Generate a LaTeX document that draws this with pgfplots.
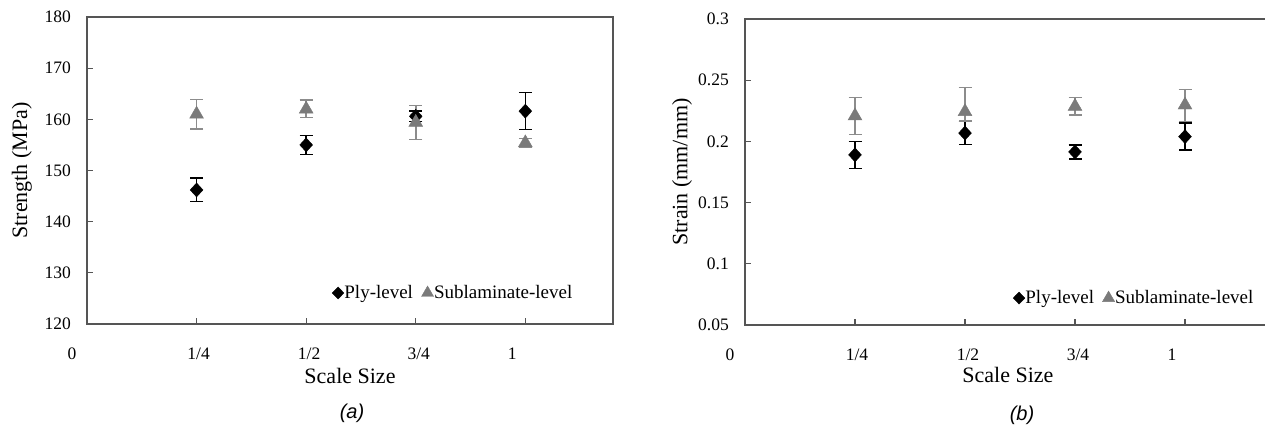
\documentclass[border=0pt]{standalone}
\usepackage{pgfplots}
\pgfplotsset{compat=1.18}
\usepackage{pgfplotstable}
\usepackage{fontspec}
\setmainfont{Liberation Serif}
\newfontfamily\capfont{Liberation Sans}
\definecolor{subgray}{RGB}{122,122,122}
\definecolor{suberr}{RGB}{140,140,140}
\definecolor{axisgray}{RGB}{85,85,85}

\pgfplotstableread{
x y ep em
0.25 146.2 2.3 2.3
0.5 155.0 1.85 1.85
0.75 160.6 1.0 1.0
1.0 161.6 3.6 3.6
}\plyA
\pgfplotstableread{
x y ep em
0.25 161.0 2.85 2.85
0.5 162.0 1.8 1.6
0.75 159.4 3.3 3.3
1.0 155.4 0.9 0.9
}\subA
\pgfplotstableread{
x y ep em
0.25 0.1890 0.0110 0.0110
0.5 0.2068 0.0093 0.0093
0.75 0.1914 0.0058 0.0058
1.0 0.2039 0.0110 0.0110
}\plyB
\pgfplotstableread{
x y ep em
0.25 0.2208 0.0151 0.0151
0.5 0.2243 0.0196 0.0076
0.75 0.2286 0.0072 0.0072
1.0 0.2297 0.0125 0.0135
}\subB

\pgfplotsset{
  myax/.style={
    scale only axis, clip=false,
    xmin=0, xmax=1.2,
    axis line style={axisgray, line width=1.2pt},
    tick style={axisgray, line width=1.2pt},
    tick align=inside, major tick length=6pt,
    tick pos=left,
    xtick={0,0.25,0.5,0.75,1},
    xticklabels={{0\kern30pt},{\kern4pt 1/4},{\kern6pt 1/2},{\kern6pt 3/4},{1\kern26pt}},
    tick label style={font=\fontsize{17.5}{20}\selectfont},
    /pgf/number format/assume math mode=true,
    xticklabel style={anchor=base, yshift=-36pt},
    yticklabel style={anchor=east, inner sep=0pt, xshift=-16pt},
    label style={font=\fontsize{22}{26}\selectfont},
    legend image code/.code={\draw[#1] plot coordinates {(0pt,0pt)};},
    legend style={anchor=west, draw=none, fill=none, legend columns=2,
      inner sep=0pt, font=\fontsize{19}{21}\selectfont,
      nodes={inner sep=0.5pt},
      /tikz/every even column/.append style={column sep=8pt}},
  },
  plystyle/.style={only marks, mark=diamond*, mark size=7pt, black,
    mark options={xscale=1.22},
    error bars/.cd, y dir=both, y explicit,
    error bar style={black, line width=1.5pt},
    error mark options={rotate=90, mark size=6.5pt, line width=1.5pt, black}},
  substyle/.style={only marks, mark=triangle*, mark size=8pt, subgray,
    error bars/.cd, y dir=both, y explicit,
    error bar style={suberr, line width=1.5pt},
    error mark options={rotate=90, mark size=6.5pt, line width=1.5pt, suberr}},
  plyleg/.style={only marks, mark=diamond*, mark size=6pt, black, mark options={xscale=1.3}},
  subleg/.style={only marks, mark=triangle*, mark size=7pt, subgray},
}

\begin{document}
\begin{tikzpicture}
\useasboundingbox (0,0) rectangle (1265pt,425pt);

\begin{axis}[myax, at={(87pt,101pt)}, anchor=south west,
  width=526pt, height=307pt,
  ymin=120, ymax=180, ytick={120,130,...,180},
  ylabel={Strength (MPa)},
  ylabel style={at={(axis description cs:-0.1236,0.5)}, anchor=center},
  xlabel={Scale Size},
  xlabel style={at={(axis description cs:0.5,-0.169)}, anchor=center},
  legend style={at={(axis description cs:0.4658,0.101)}},
]
\addlegendimage{plyleg}
\addlegendimage{subleg}
\addplot[forget plot, plystyle] table[x=x,y=y,y error plus=ep,y error minus=em]{\plyA};
\addplot[forget plot, substyle] table[x=x,y=y,y error plus=ep,y error minus=em]{\subA};
\legend{Ply-level, Sublaminate-level}
\end{axis}

\begin{axis}[myax, at={(745pt,100pt)}, anchor=south west,
  width=528pt, height=306pt,
  ymin=0.05, ymax=0.3, ytick={0.05,0.1,0.15,0.2,0.25,0.3},
  yticklabels={0.05,0.1,0.15,0.2,0.25,0.3},
  ylabel={Strain (mm/mm)},
  ylabel style={at={(axis description cs:-0.119,0.5)}, anchor=center},
  xlabel={Scale Size},
  xlabel style={at={(axis description cs:0.498,-0.163)}, anchor=center},
  legend style={at={(axis description cs:0.5076,0.088)}},
]
\addlegendimage{plyleg}
\addlegendimage{subleg}
\addplot[forget plot, plystyle] table[x=x,y=y,y error plus=ep,y error minus=em]{\plyB};
\addplot[forget plot, substyle] table[x=x,y=y,y error plus=ep,y error minus=em]{\subB};
\legend{Ply-level, Sublaminate-level}
\end{axis}

\node[font=\capfont\itshape\fontsize{20}{22}\selectfont] at (352pt,12pt) {(a)};
\node[font=\capfont\itshape\fontsize{20}{22}\selectfont] at (1022pt,10pt) {(b)};
\end{tikzpicture}
\end{document}
